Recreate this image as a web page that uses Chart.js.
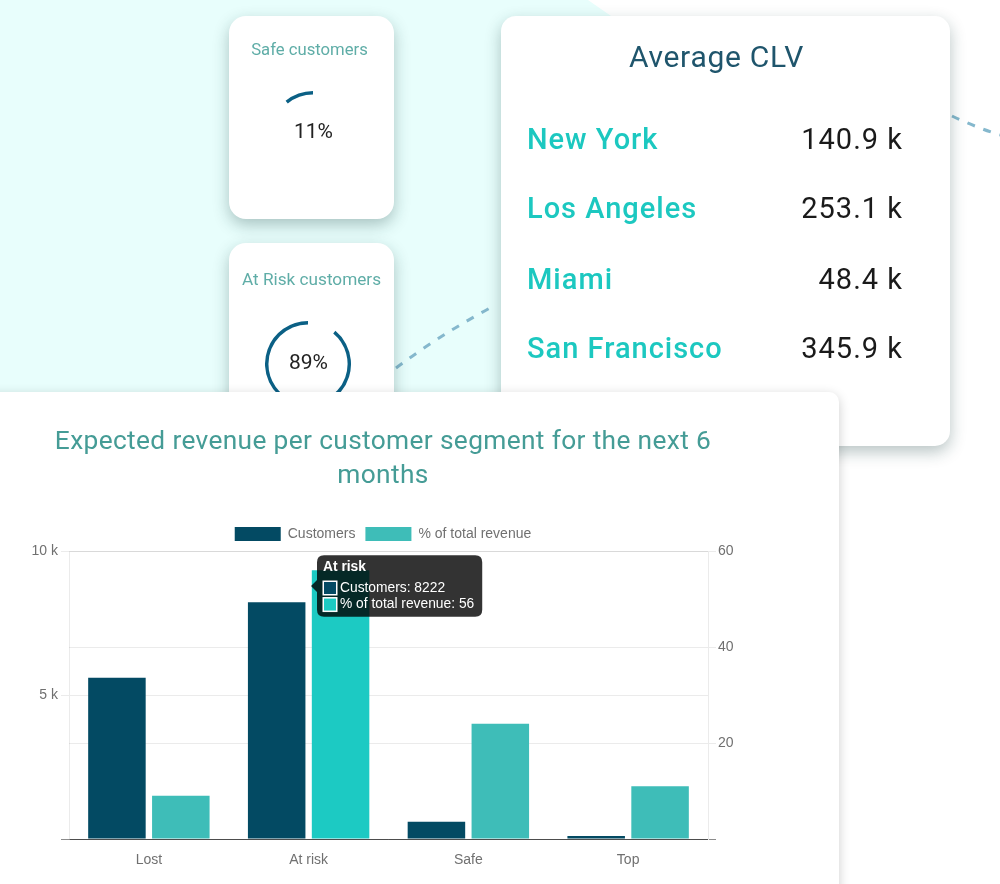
<!DOCTYPE html>
<html>
<head>
<meta charset="utf-8">
<script src="https://cdn.jsdelivr.net/npm/chart.js@4"></script>
<style>
  html, body { margin: 0; padding: 0; background: #fff; }
  #page { position: relative; width: 1000px; height: 884px; overflow: hidden; filter: blur(0.5px); font-family: Roboto, sans-serif; }
  #bg { position: absolute; left: 0; top: 0; }
  .card { position: absolute; background: #fff; box-shadow: 0 6px 16px rgba(20,60,60,.3); }
  .small { left: 229px; width: 165px; height: 203px; border-radius: 17px; }
  .small h4 { margin: 0; position: absolute; text-align: center; font-weight: 400; font-size: 17px; color: #5fada7; }
  .small canvas { position: absolute; }
  .small span { position: absolute; left: 0; right: 0; text-align: center; font-size: 21px; color: #222; }
  #clv { left: 501px; top: 16px; width: 449px; height: 430px; border-radius: 15px; }
  #clv h3 { margin: 0; position: absolute; left: -18px; right: 0; top: 23px; text-align: center; font-weight: 400; font-size: 30px; letter-spacing: .7px; color: #1f556c; }
  .row { position: absolute; left: 26px; width: 376px; display: flex; justify-content: space-between; font-size: 29px; letter-spacing: 1px; }
  .row b { font-weight: 500; color: #1cc8c0; }
  .row i { font-style: normal; color: #1a1a1a; }
  #rev { left: -20px; top: 392px; width: 859px; height: 520px; border-radius: 10px; box-shadow: 0 3px 12px rgba(0,0,0,.2); }
  #rev h2 { margin: 0; position: absolute; left: 20px; width: 766px; top: 31px; text-align: center; font-weight: 400; font-size: 26.3px; line-height: 34px; letter-spacing: .35px; color: #459c96; }
  #revWrap { position: absolute; left: 0; top: 517px; width: 766px; height: 367px; }
</style>
</head>
<body>
<div id="page">
  <svg id="bg" width="1000" height="884">
    <polygon points="0,0 588,0 640,36 640,392 0,392" fill="#e8fefc"/>
    <path d="M396 368 Q440 335 490 308" fill="none" stroke="#85b8cd" stroke-width="3" stroke-dasharray="8 9"/>
    <path d="M952 116 Q975 127 1000 135" fill="none" stroke="#85b8cd" stroke-width="3" stroke-dasharray="8 9"/>
  </svg>

  <div class="card small" style="top:16px">
    <h4 style="top:24px;left:-4px;right:0;font-size:16.7px">Safe customers</h4>
    <canvas id="safeRing" style="left:41px;top:75px"></canvas>
    <span style="top:103px;left:4px" id="safeText"></span>
  </div>
  <div class="card small" style="top:243px;height:300px">
    <h4 style="top:26px;left:0;right:0;font-size:17.2px">At Risk customers</h4>
    <canvas id="riskRing" style="left:36px;top:78px"></canvas>
    <span style="top:107px;left:-6px" id="riskText"></span>
  </div>

  <div class="card" id="clv"><h3>Average CLV</h3></div>

  <div class="card" id="rev">
    <h2>Expected revenue per customer segment for the next 6<br>months</h2>
  </div>
  <div id="revWrap"><canvas id="revChart"></canvas></div>
</div>

<script>
const segments = ['Lost', 'At risk', 'Safe', 'Top'];
const customers = [5600, 8222, 600, 100];
const revenueShare = [9, 56, 24, 11];
const leftTicks = { 0: '', 5000: '5 k', 10000: '10 k' };

const cities = ['New York', 'Los Angeles', 'Miami', 'San Francisco'];
const avgClv = ['140.9 k', '253.1 k', '48.4 k', '345.9 k'];
const rowTops = [106, 175, 246, 315];

const safePct = 11;
const riskPct = 89;

const DARK = '#034a63';
const TEAL = '#3ebdb8';
const TEAL_HOVER = '#1ccac3';
const RING = '#0b6085';
const TEXT = '#707070';

cities.forEach((c, i) => {
  const row = document.createElement('div');
  row.className = 'row';
  row.style.top = rowTops[i] + 'px';
  row.innerHTML = '<b>' + c + '</b><i>' + avgClv[i] + '</i>';
  document.getElementById('clv').appendChild(row);
});

function ring(id, textId, pct) {
  const el = document.getElementById(id);
  el.width = 86; el.height = 86;
  new Chart(el, {
    type: 'doughnut',
    data: { datasets: [{ data: [100 - pct, pct], backgroundColor: ['rgba(0,0,0,0)', RING], borderWidth: 0 }] },
    options: {
      responsive: false, animation: false, cutout: '92%',
      plugins: { legend: { display: false }, tooltip: { enabled: false } }
    }
  });
  document.getElementById(textId).textContent = pct + '%';
}
ring('safeRing', 'safeText', safePct);
ring('riskRing', 'riskText', riskPct);

// caret position is in canvas coordinates
Chart.Tooltip.positioners.caretLeft = function () {
  return { x: 311, y: 69, xAlign: 'left', yAlign: 'center' };
};

const axisFont = { family: '"Liberation Sans", Arial, sans-serif', size: 14 };
const gridColor = ctx => ctx.tick && ctx.tick.value === 0 ? 'rgba(0,0,0,0.45)' : 'rgba(0,0,0,0.08)';

const chart = new Chart(document.getElementById('revChart'), {
  type: 'bar',
  data: {
    labels: segments,
    datasets: [
      { label: 'Customers', data: customers, yAxisID: 'y', backgroundColor: DARK },
      { label: '% of total revenue', data: revenueShare, yAxisID: 'y1', backgroundColor: segments.map((s, i) => i === 1 ? TEAL_HOVER : TEAL) }
    ]
  },
  options: {
    responsive: true, maintainAspectRatio: false, animation: false,
    events: [],
    interaction: { mode: 'index' },
    plugins: {
      legend: {
        labels: {
          boxWidth: 46, boxHeight: 14, padding: 10, color: TEXT, font: axisFont,
          generateLabels: () => [
            { text: 'Customers', fillStyle: DARK, strokeStyle: DARK, lineWidth: 0, fontColor: TEXT, datasetIndex: 0 },
            { text: '% of total revenue', fillStyle: TEAL, strokeStyle: TEAL, lineWidth: 0, fontColor: TEXT, datasetIndex: 1 }
          ]
        }
      },
      tooltip: {
        position: 'caretLeft',
        backgroundColor: 'rgba(0,0,0,0.8)',
        titleFont: { family: axisFont.family, size: 13.8, weight: 'bold' },
        bodyFont: { family: axisFont.family, size: 13.8 },
        titleColor: '#fff', bodyColor: '#fff',
        padding: { left: 6, right: 8, top: 4, bottom: 4 },
        cornerRadius: 7, caretSize: 6, caretPadding: 0,
        titleMarginBottom: 4, bodySpacing: 0, boxPadding: 1,
        boxWidth: 14, boxHeight: 14,
        callbacks: {
          label: c => c.dataset.label + ': ' + c.raw,
          labelColor: c => ({
            borderColor: '#fff', borderWidth: 1,
            backgroundColor: c.datasetIndex === 0 ? DARK : TEAL_HOVER
          })
        }
      }
    },
    scales: {
      x: {
        grid: { display: false },
        border: { display: false },
        afterFit: s => { s.height = 45; },
        ticks: { color: TEXT, font: axisFont, padding: 5 }
      },
      y: {
        position: 'left', min: 0, max: 10000,
        afterFit: s => { s.width = 69; },
        border: { color: 'rgba(0,0,0,0.08)' },
        grid: { color: gridColor },
        ticks: { stepSize: 5000, color: TEXT, font: axisFont, padding: 3, callback: v => leftTicks[v] }
      },
      y1: {
        position: 'right', min: 0, max: 60,
        afterFit: s => { s.width = 58; },
        border: { color: 'rgba(0,0,0,0.08)' },
        grid: { color: gridColor },
        ticks: { stepSize: 20, color: TEXT, font: axisFont, padding: 2, callback: v => v === 0 ? '' : v }
      }
    }
  }
});
chart.tooltip.setActiveElements([{ datasetIndex: 0, index: 1 }, { datasetIndex: 1, index: 1 }], { x: 311, y: 69 });
chart.update();
</script>
</body>
</html>
